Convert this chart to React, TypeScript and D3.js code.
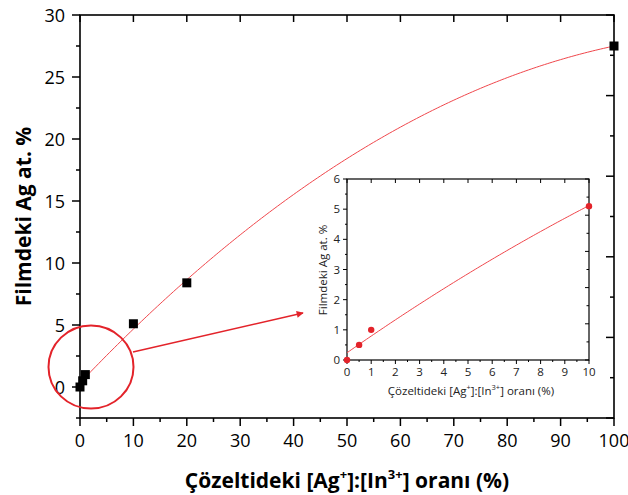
import React from "react";
import * as d3 from "d3";

// ---- data ----
const ratioMain = [0, 0.5, 1, 10, 20, 100];
const agMain = [0, 0.5, 1, 5.1, 8.4, 27.5];
const ratioInset = [0, 0.5, 1, 10];
const agInset = [0, 0.5, 1, 5.1];
const xTicksMain = [0, 10, 20, 30, 40, 50, 60, 70, 80, 90, 100];
const yTicksMain = [0, 5, 10, 15, 20, 25, 30];
const xTicksInset = [0, 1, 2, 3, 4, 5, 6, 7, 8, 9, 10];
const yTicksInset = [0, 1, 2, 3, 4, 5, 6];
// inset fit curve coefficients: a + b x + c x^2
const insetFitCoef = [0.24, 0.56, -0.0072];

// least squares polynomial fit of the main data
function polyFit(xs: number[], ys: number[], deg: number): number[] {
  const n = deg + 1;
  const A: number[][] = [];
  for (let i = 0; i < n; i++) {
    A.push([]);
    for (let j = 0; j < n; j++) {
      let s = 0;
      xs.forEach((x) => (s += Math.pow(x, i + j)));
      A[i].push(s);
    }
    let r = 0;
    xs.forEach((x, k) => (r += ys[k] * Math.pow(x, i)));
    A[i].push(r);
  }
  for (let c = 0; c < n; c++) {
    let p = c;
    for (let r = c + 1; r < n; r++) if (Math.abs(A[r][c]) > Math.abs(A[p][c])) p = r;
    [A[c], A[p]] = [A[p], A[c]];
    for (let r = 0; r < n; r++) {
      if (r === c) continue;
      const f = A[r][c] / A[c][c];
      for (let k = c; k <= n; k++) A[r][k] -= f * A[c][k];
    }
  }
  return A.map((row, i) => row[n] / row[i]);
}
const mainFitCoef = polyFit(ratioMain, agMain, 2);
const poly = (coef: number[]) => (x: number) => coef.reduce((s, c, i) => s + c * Math.pow(x, i), 0);
const fitMainY = poly(mainFitCoef);
const fitInsetY = poly(insetFitCoef);

const FONT = "'Open Sans', 'Noto Sans', sans-serif";
const RED = "#e3232a";
const FITRED = "#f0474c";

export default function App() {
  const x = d3.scaleLinear().domain([0, 100]).range([80, 614]);
  const y = d3.scaleLinear().domain([-2.5, 30]).range([418, 15]);
  const yR = d3.scaleLinear().domain([0, 10]).range([418, 15]);

  const xi = d3.scaleLinear().domain([0, 10]).range([347, 589]);
  const yi = d3.scaleLinear().domain([0, 6]).range([360, 179]);
  const yiR = d3.scaleLinear().domain([0, 10]).range([360, 179]);

  const fitMain = d3.range(1, 100.01, 0.5).map((v) => [x(v), y(fitMainY(v))] as [number, number]);
  const fitInset = d3.range(0, 10.001, 0.1).map((v) => [xi(v), yi(fitInsetY(v))] as [number, number]);
  const line = d3.line();

  const xMinor = d3.range(0, 100.01, 5);
  const yMinor = d3.range(-2.5, 30.01, 2.5);
  const rTicks = d3.range(0, 10.01, 1);
  const xiMinor = d3.range(0, 10.01, 0.5);
  const yiMinor = d3.range(0, 6.01, 0.5);

  return (
    <svg width={628} height={495} style={{ display: "block", position: "absolute", left: 0, top: 0 }}>
      <rect width={628} height={495} fill="#fff" />
      {/* main frame */}
      <g stroke="#000" strokeWidth={1.6} fill="none">
        <rect x={80} y={15} width={534} height={403} />
      </g>
      <g stroke="#000" strokeWidth={1.5}>
        {xMinor.map((v) => {
          const major = v % 10 === 0;
          return <line key={"b" + v} x1={x(v)} x2={x(v)} y1={418} y2={418 + (major ? 8 : 4)} />;
        })}
        {xMinor.map((v) => {
          const major = v % 10 === 0;
          return major ? <line key={"t" + v} x1={x(v)} x2={x(v)} y1={15} y2={15 + 7} /> : null;
        })}
        {yMinor.map((v) => {
          const major = v % 5 === 0;
          return <line key={"l" + v} x1={80} x2={80 - (major ? 8 : 4)} y1={y(v)} y2={y(v)} />;
        })}
        {rTicks.map((v) => {
          const major = v % 2 === 0;
          return <line key={"r" + v} x1={614} x2={614 - (major ? 8 : 4)} y1={yR(v)} y2={yR(v)} />;
        })}
      </g>
      <g fontFamily={FONT} fontSize={18} fill="#000">
        {xTicksMain.map((v) => (
          <text key={"xt" + v} x={x(v)} y={447} textAnchor="middle">{v}</text>
        ))}
        {yTicksMain.map((v) => (
          <text key={"yt" + v} x={65} y={y(v) + 6.5} textAnchor="end">{v}</text>
        ))}
      </g>
      <text x={347} y={488} textAnchor="middle" fontFamily={FONT} fontSize={21} fontWeight="bold">
        Çözeltideki [Ag<tspan dy={-9} fontSize={13}>+</tspan><tspan dy={9}>]:[In</tspan>
        <tspan dy={-9} fontSize={13}>3+</tspan><tspan dy={9}>] oranı (%)</tspan>
      </text>
      <text transform="translate(31,216.5) rotate(-90)" textAnchor="middle" fontFamily={FONT} fontSize={21} fontWeight="bold">
        Filmdeki Ag at. %
      </text>

      {/* main fit + points */}
      <path d={line(fitMain) || ""} fill="none" stroke={FITRED} strokeWidth={1} />
      {ratioMain.map((v, i) => (
        <rect key={"p" + i} x={x(v) - 4.5} y={y(agMain[i]) - 4.5} width={9} height={9} fill="#000" />
      ))}

      {/* annotation circle + arrow */}
      <defs>
        <marker id="ah" viewBox="0 0 10 10" refX={9} refY={5} markerWidth={9} markerHeight={7} orient="auto" markerUnits="userSpaceOnUse">
          <path d="M0,0 L10,5 L0,10 Z" fill={RED} />
        </marker>
      </defs>
      <ellipse cx={91} cy={367} rx={42.5} ry={41.5} fill="none" stroke={RED} strokeWidth={2} />
      <line x1={133} y1={352} x2={303} y2={313} stroke={RED} strokeWidth={1.6} markerEnd="url(#ah)" />

      {/* inset */}
      <rect x={347} y={179} width={242} height={181} fill="#fff" stroke="#000" strokeWidth={1.2} />
      <g stroke="#000" strokeWidth={1}>
        {xiMinor.map((v) => {
          const major = Number.isInteger(v);
          return <line key={"ib" + v} x1={xi(v)} x2={xi(v)} y1={360} y2={360 + (major ? 4 : 2)} />;
        })}
        {xTicksInset.map((v) => (
          <line key={"it" + v} x1={xi(v)} x2={xi(v)} y1={179} y2={183} />
        ))}
        {yiMinor.map((v) => {
          const major = Number.isInteger(v);
          return <line key={"il" + v} x1={347} x2={347 - (major ? 4 : 2)} y1={yi(v)} y2={yi(v)} />;
        })}
        {rTicks.map((v) => {
          const major = v % 2 === 0;
          return <line key={"ir" + v} x1={589} x2={589 - (major ? 4 : 2.5)} y1={yiR(v)} y2={yiR(v)} />;
        })}
      </g>
      <g fontFamily={FONT} fontSize={11.5} fill="#222">
        {xTicksInset.map((v) => (
          <text key={"ixt" + v} x={xi(v)} y={376} textAnchor="middle">{v}</text>
        ))}
        {yTicksInset.map((v) => (
          <text key={"iyt" + v} x={340} y={yi(v) + 4} textAnchor="end">{v}</text>
        ))}
      </g>
      <text x={471} y={395} textAnchor="middle" fontFamily={FONT} fontSize={11.5} fill="#222">
        Çözeltideki [Ag<tspan dy={-5} fontSize={7.5}>+</tspan><tspan dy={5}>]:[In</tspan>
        <tspan dy={-5} fontSize={7.5}>3+</tspan><tspan dy={5}>] oranı (%)</tspan>
      </text>
      <text transform="translate(327,270) rotate(-90)" textAnchor="middle" fontFamily={FONT} fontSize={11.5} fill="#222">
        Filmdeki Ag at. %
      </text>
      <path d={line(fitInset) || ""} fill="none" stroke={FITRED} strokeWidth={1} />
      {ratioInset.map((v, i) => (
        <circle key={"ip" + i} cx={xi(v)} cy={yi(agInset[i])} r={3.2} fill={RED} />
      ))}
    </svg>
  );
}
